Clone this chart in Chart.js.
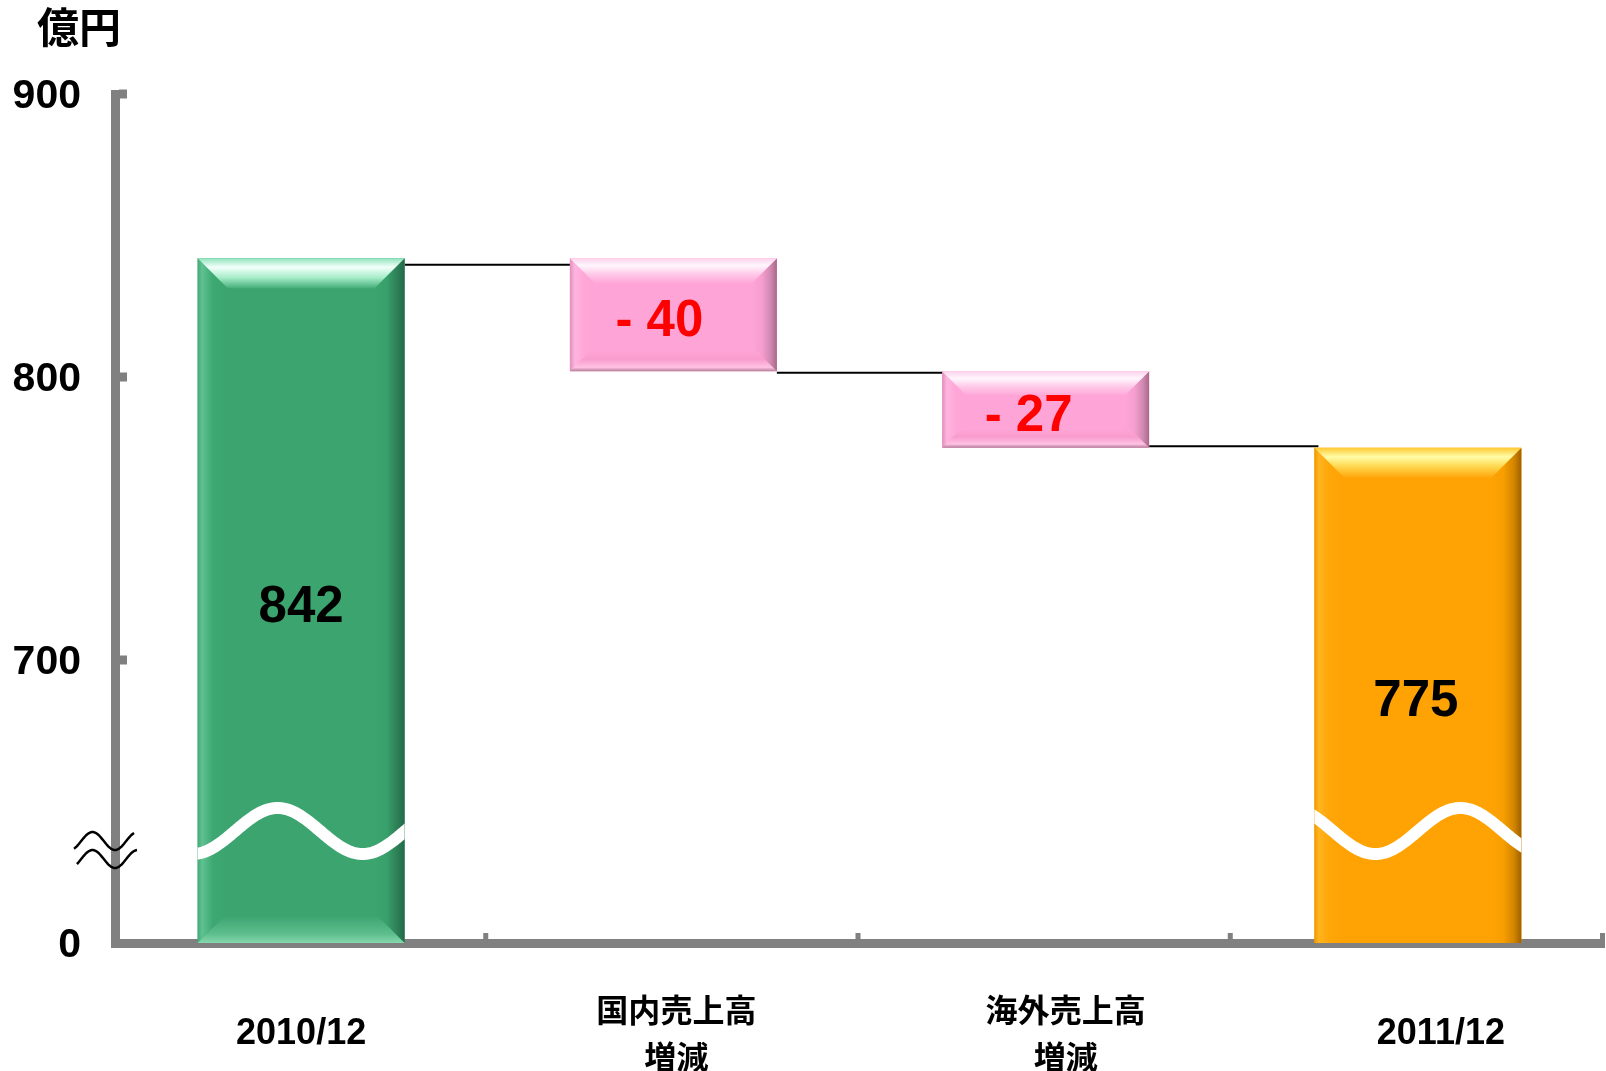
<!DOCTYPE html>
<html>
<head>
<meta charset="utf-8">
<script src="https://cdn.jsdelivr.net/npm/chart.js@4"></script>
<style>
html,body{margin:0;padding:0;background:#ffffff;}
#wrap{width:1606px;height:1071px;position:relative;}
</style>
</head>
<body>
<div id="wrap"><canvas id="c" width="1606" height="1071"></canvas></div>
<script>
// ---------------- data ----------------
const categories = [['2010/12'], ['国内売上高', '増減'], ['海外売上高', '増減'], ['2011/12']];
const barLow = [0, 802, 775, 0];          // start of each (floating) bar, 億円
const barHigh = [842, 842, 802, 775];     // end of each bar, 億円
const connectorLevels = [839.7, 801.5, 775.5]; // connector lines between bars, 億円
const valueLabels = ['842', '- 40', '- 27', '775'];
const yTickValues = [600, 700, 800, 900]; // broken axis: bottom of the scale is labelled 0
const yTickLabels = ['0', '700', '800', '900'];
const yMin = 600, yMax = 900;
const unitLabel = '億円';

// ---------------- styles ----------------
const AXIS_GRAY = '#808080';
const baseColors = ['#3BA46F', '#FFA4D6', '#FFA4D6', '#FFA305'];
const labelColors = ['#000000', '#FF0000', '#FF0000', '#000000'];
const labelShift = [0, -14, -17, -2];
const xLabelShift = [0, 3, 20, 23];
const bevelSize = [30, 25, 24, 30];
const bevelBottom = [26, 20, 18, 0];
const waveBars = [0, 3];
const wavePeakOffset = {0: 80, 3: 146};
const bevelStyles = {
  green: {
    top: [[0, '#8FE3BC'], [0.3, '#F2FFFA'], [0.65, '#A6EDC8'], [1, '#45AE7A']],
    left: [[0, '#45A877'], [0.15, '#5FC291'], [0.5, '#3EA873'], [1, '#3BA46F']],
    right: [[0, '#24694A'], [0.25, '#2E7F57'], [0.6, '#38A06B'], [1, '#3BA46F']],
    bottom: [[0, '#86D7AC'], [0.35, '#5DBE8C'], [1, '#3EA672']]
  },
  pink: {
    top: [[0, '#FFD2EC'], [0.3, '#FFF6FC'], [0.65, '#FFC8E8'], [1, '#FFA8D8']],
    left: [[0, '#E090BA'], [0.2, '#FFB4DF'], [0.6, '#FFA6D7'], [1, '#FFA4D6']],
    right: [[0, '#A8688A'], [0.25, '#D088B0'], [0.6, '#F59ECF'], [1, '#FFA4D6']],
    bottom: [[0, '#B27A96'], [0.2, '#FFC2E4'], [0.6, '#F89CCD'], [1, '#FFA4D6']]
  },
  orange: {
    top: [[0, '#FFC830'], [0.3, '#FFFCA8'], [0.62, '#FFD850'], [1, '#FFA60A']],
    left: [[0, '#F09800'], [0.15, '#FFB420'], [0.5, '#FFA608'], [1, '#FFA305']],
    right: [[0, '#A06000'], [0.25, '#D48600'], [0.6, '#F89E00'], [1, '#FFA305']],
    bottom: null
  }
};
const barStyleKey = ['green', 'pink', 'pink', 'orange'];
const LATIN = "'Liberation Sans', Arial, sans-serif";
const CJK = "'Noto Sans CJK JP', 'Noto Sans CJK SC', sans-serif";

// ---------------- helpers ----------------
function face(ctx, pts, g0, g1, stops) {
  const grad = ctx.createLinearGradient(g0[0], g0[1], g1[0], g1[1]);
  stops.forEach(([o, c]) => grad.addColorStop(o, c));
  ctx.fillStyle = grad;
  ctx.beginPath();
  ctx.moveTo(pts[0][0], pts[0][1]);
  for (let k = 1; k < pts.length; k++) ctx.lineTo(pts[k][0], pts[k][1]);
  ctx.closePath();
  ctx.fill();
}
function barRect(el) {
  const p = el.getProps(['x', 'y', 'base', 'width'], true);
  return {
    L: p.x - p.width / 2, R: p.x + p.width / 2,
    T: Math.min(p.y, p.base), B: Math.max(p.y, p.base), cx: p.x
  };
}
function isCJK(s) { return /[^\x00-\x7F]/.test(s); }

const deco = {
  id: 'deco',
  beforeDatasetsDraw(chart) {
    const ctx = chart.ctx;
    const meta = chart.getDatasetMeta(0);
    const ys = chart.scales.y;
    ctx.save();
    ctx.strokeStyle = '#000000';
    ctx.lineWidth = 2;
    for (let i = 0; i < meta.data.length - 1; i++) {
      const a = barRect(meta.data[i]);
      const b = barRect(meta.data[i + 1]);
      const y = ys.getPixelForValue(connectorLevels[i]);
      ctx.beginPath();
      ctx.moveTo(a.R, y);
      ctx.lineTo(b.L + 4, y);
      ctx.stroke();
    }
    ctx.restore();
  },
  afterDatasetsDraw(chart) {
    const ctx = chart.ctx;
    const meta = chart.getDatasetMeta(0);
    const ca = chart.chartArea;
    ctx.save();
    meta.data.forEach((el, i) => {
      const r = barRect(el);
      const st = bevelStyles[barStyleKey[i]];
      const b = bevelSize[i];
      const bb = st.bottom ? bevelBottom[i] : 0;
      face(ctx, [[r.L, r.T], [r.L + b, r.T + b], [r.L + b, r.B - bb], [r.L, r.B]], [r.L, 0], [r.L + b, 0], st.left);
      face(ctx, [[r.R, r.T], [r.R, r.B], [r.R - b, r.B - bb], [r.R - b, r.T + b]], [r.R, 0], [r.R - b, 0], st.right);
      face(ctx, [[r.L, r.T], [r.R, r.T], [r.R - b, r.T + b], [r.L + b, r.T + b]], [0, r.T], [0, r.T + b], st.top);
      if (bb) {
        face(ctx, [[r.L, r.B], [r.R, r.B], [r.R - bb, r.B - bb], [r.L + bb, r.B - bb]], [0, r.B], [0, r.B - bb], st.bottom);
      }
    });
    // wavy break marks across the bars that start at 0
    waveBars.forEach(i => {
      const r = barRect(meta.data[i]);
      const cy = ca.bottom - 112;
      const px = r.L + wavePeakOffset[i];
      ctx.save();
      ctx.beginPath();
      ctx.rect(r.L, r.T, r.R - r.L, r.B - r.T);
      ctx.clip();
      ctx.strokeStyle = '#FFFFFF';
      ctx.lineWidth = 12;
      ctx.lineCap = 'round';
      ctx.beginPath();
      for (let x = r.L - 6; x <= r.R + 6; x += 1) {
        const y = cy - 23 * Math.cos(2 * Math.PI * (x - px) / 170);
        if (x === r.L - 6) ctx.moveTo(x, y); else ctx.lineTo(x, y);
      }
      ctx.stroke();
      ctx.restore();
    });
    // value labels
    ctx.textAlign = 'center';
    ctx.textBaseline = 'middle';
    ctx.font = 'bold 51px ' + LATIN;
    meta.data.forEach((el, i) => {
      const r = barRect(el);
      ctx.fillStyle = labelColors[i];
      ctx.fillText(valueLabels[i], r.cx + labelShift[i], (r.T + r.B) / 2 + 7);
    });
    ctx.restore();
  },
  afterDraw(chart) {
    const ctx = chart.ctx;
    const ca = chart.chartArea;
    const xs = chart.scales.x, ys = chart.scales.y;
    ctx.save();
    ctx.fillStyle = AXIS_GRAY;
    // y tick stubs (inside)
    yTickValues.forEach(v => {
      if (v === yMin) return;
      const y = ys.getPixelForValue(v);
      ctx.fillRect(ca.left + 4, y - 4.5, 8, 9);
    });
    // x category boundary stubs
    const half = (xs.getPixelForValue(1) - xs.getPixelForValue(0)) / 2;
    for (let i = 0; i < categories.length; i++) {
      const x = xs.getPixelForValue(i) + half;
      ctx.fillRect(x - 4, ca.bottom - 10, 5, 8);
    }
    // axis break symbol on y axis
    ctx.strokeStyle = '#000000';
    ctx.lineWidth = 2.5;
    [[ca.bottom - 102, 74, 134], [ca.bottom - 84, 77, 137]].forEach(([cy, x0, x1]) => {
      ctx.beginPath();
      for (let x = x0; x <= x1; x += 1) {
        const y = cy + 9 * Math.cos(2 * Math.PI * (x - ca.left) / 45);
        if (x === x0) ctx.moveTo(x, y); else ctx.lineTo(x, y);
      }
      ctx.stroke();
    });
    // x category labels
    ctx.fillStyle = '#000000';
    ctx.textAlign = 'center';
    ctx.textBaseline = 'middle';
    categories.forEach((lines, i) => {
      const x = xs.getPixelForValue(i) + xLabelShift[i];
      if (lines.length === 1) {
        ctx.font = 'bold ' + (isCJK(lines[0]) ? '32px ' + CJK : '36px ' + LATIN);
        ctx.fillText(lines[0], x, 1034);
      } else {
        lines.forEach((t, k) => {
          ctx.font = 'bold ' + (isCJK(t) ? '32px ' + CJK : '36px ' + LATIN);
          ctx.fillText(t, x, 1010 + k * 47);
        });
      }
    });
    // unit label
    ctx.font = 'bold 42px ' + CJK;
    ctx.fillText(unitLabel, 79, 27);
    ctx.restore();
  }
};

const ctx = document.getElementById('c').getContext('2d');
new Chart(ctx, {
  type: 'bar',
  data: {
    labels: categories.map(c => c.join('')),
    datasets: [{
      data: barLow.map((lo, i) => [Math.max(lo, yMin), barHigh[i]]),
      backgroundColor: baseColors,
      borderWidth: 0,
      barPercentage: 0.556,
      categoryPercentage: 1
    }]
  },
  options: {
    responsive: false,
    animation: false,
    devicePixelRatio: 1,
    layout: { padding: { left: 0, right: 2, top: 94, bottom: 128 } },
    plugins: { legend: { display: false }, tooltip: { enabled: false }, title: { display: false } },
    scales: {
      x: {
        z: 1,
        offset: true,
        grid: { display: true, drawOnChartArea: false, drawTicks: false },
        ticks: { display: false },
        border: { display: true, color: AXIS_GRAY, width: 9 }
      },
      y: {
        z: 1,
        min: yMin,
        max: yMax,
        afterBuildTicks: s => { s.ticks = yTickValues.map(v => ({ value: v })); },
        afterFit: s => { s.width = 115; },
        grid: { display: true, drawOnChartArea: false, drawTicks: false },
        border: { display: true, color: AXIS_GRAY, width: 9 },
        ticks: {
          padding: 34,
          labelOffset: 3,
          color: '#000000',
          font: { family: LATIN, size: 41, weight: 'bold' },
          callback: (v) => yTickLabels[yTickValues.indexOf(v)]
        }
      }
    }
  },
  plugins: [deco]
});
</script>
</body>
</html>
